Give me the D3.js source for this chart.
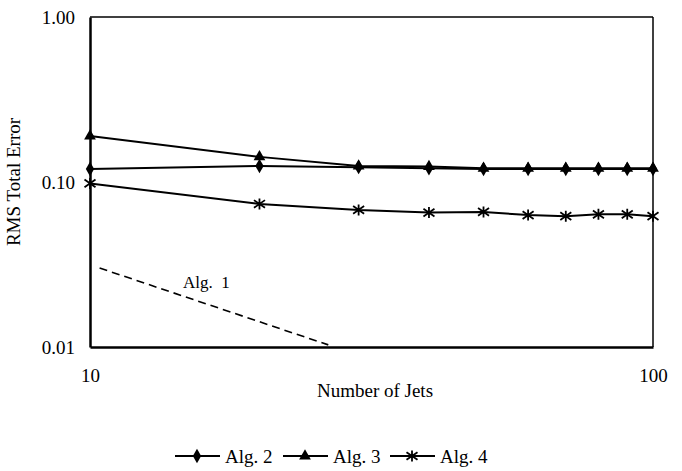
<!DOCTYPE html>
<html>
<head>
<meta charset="utf-8">
<script src="https://cdn.jsdelivr.net/npm/d3@7"></script>
<style>
  body { margin: 0; background: #fff; }
  svg { display: block; font-family: "Liberation Serif", "Times New Roman", serif; }
  .line { fill: none; stroke: #000; stroke-width: 2px; }
  .dash { fill: none; stroke: #000; stroke-width: 1.6px; stroke-dasharray: 8,5; }
  .axis path { stroke: #000; }
  .axis text { font-size: 19px; fill: #000; }
</style>
</head>
<body>
<svg id="chart"></svg>
<script>
// x values (number of jets)
var jets = [10, 20, 30, 40, 50, 60, 70, 80, 90, 100]
var alg2 = [0.120, 0.125, 0.123, 0.121, 0.120, 0.120, 0.120, 0.120, 0.120, 0.120]
var alg3 = [0.190, 0.142, 0.125, 0.124, 0.121, 0.121, 0.121, 0.121, 0.121, 0.121]
var alg4 = [0.098, 0.0736, 0.0677, 0.0653, 0.0659, 0.0630, 0.0621, 0.0637, 0.0637, 0.0621]
// Alg. 1 reference line (two end points)
var alg1X = [10.4, 26.5]
var alg1Y = [0.0301, 0.0103]
var yTicks = [0.01, 0.1, 1]
var xTicks = [10, 100]

var width = 682, height = 471
var margin = {top: 17, right: 29, bottom: 124, left: 90}
var w = width - margin.left - margin.right,
    h = height - margin.top - margin.bottom

var svg = d3.select("#chart").attr("width", width).attr("height", height)
var g = svg.append("g").attr("transform", "translate(" + margin.left + "," + margin.top + ")")

var x = d3.scaleLog().domain([10, 100]).range([0, w])
var y = d3.scaleLog().domain([0.01, 1]).range([h, 0])

// frame: thin top/right, heavier left/bottom
g.append("line").attr("x1", 0).attr("x2", w).attr("y1", 0).attr("y2", 0)
  .attr("stroke", "#000").attr("stroke-width", 1.5)
g.append("line").attr("x1", w).attr("x2", w).attr("y1", 0).attr("y2", h)
  .attr("stroke", "#000").attr("stroke-width", 1.5)

// axes
g.append("g").attr("class", "axis")
  .call(d3.axisLeft(y).tickValues(yTicks).tickSize(0).tickPadding(15).tickFormat(d3.format(".2f")))
  .attr("font-family", null).attr("font-size", null)
  .call(a => a.select(".domain").attr("stroke-width", 2.5))

g.append("g").attr("class", "axis")
  .attr("transform", "translate(0," + h + ")")
  .call(d3.axisBottom(x).tickValues(xTicks).tickSize(0).tickPadding(22).tickFormat(d3.format("d")))
  .attr("font-family", null).attr("font-size", null)
  .call(a => a.select(".domain").attr("stroke-width", 2.5))

// axis titles
svg.append("text")
  .attr("x", 375).attr("y", 397)
  .attr("text-anchor", "middle").attr("font-size", 19).text("Number of Jets")
svg.append("text")
  .attr("transform", "translate(20," + (margin.top + h / 2) + ") rotate(-90)")
  .attr("text-anchor", "middle").attr("font-size", 19).text("RMS Total Error")

// marker symbols
var diamond = d3.symbol().type(d3.symbolDiamond).size(60)
var triangle = d3.symbol().type(d3.symbolTriangle).size(60)
var starPath = function(s) {
  return "M0," + (-s) + "V" + s +
    "M" + (-s) + "," + (-s * 0.7) + "L" + s + "," + (s * 0.7) +
    "M" + (-s) + "," + (s * 0.7) + "L" + s + "," + (-s * 0.7)
}

var series = [
  {name: "Alg. 2", values: alg2, marker: "diamond"},
  {name: "Alg. 3", values: alg3, marker: "triangle"},
  {name: "Alg. 4", values: alg4, marker: "star"}
]

function drawMarker(sel, m) {
  if (m === "diamond") sel.append("path").attr("d", diamond()).attr("fill", "#000")
  else if (m === "triangle") sel.append("path").attr("d", triangle()).attr("fill", "#000")
  else sel.append("path").attr("d", starPath(5.5)).attr("fill", "none").attr("stroke", "#000").attr("stroke-width", 1.8)
}

var line = d3.line().x(d => x(d[0])).y(d => y(d[1]))

series.forEach(function(s) {
  var pts = jets.map((j, i) => [j, s.values[i]])
  g.append("path").datum(pts).attr("class", "line").attr("d", line)
  pts.forEach(function(p) {
    var m = g.append("g").attr("transform", "translate(" + x(p[0]) + "," + y(p[1]) + ")")
    drawMarker(m, s.marker)
  })
})

// Alg. 1 dashed
g.append("path").datum(alg1X.map((v, i) => [v, alg1Y[i]]))
  .attr("class", "dash").attr("d", line)
g.append("text").attr("x", x(16.1)).attr("y", y(0.0228))
  .attr("text-anchor", "middle").attr("font-size", 17).text("Alg.  1")
  .style("white-space", "pre")

// legend
var legendX = [175, 283, 390]
var leg = svg.append("g")
series.forEach(function(s, i) {
  var lx = legendX[i], ly = 456
  leg.append("line").attr("x1", lx).attr("x2", lx + 45).attr("y1", ly).attr("y2", ly)
    .attr("stroke", "#000").attr("stroke-width", 2)
  drawMarker(leg.append("g").attr("transform", "translate(" + (lx + 22) + "," + ly + ")"), s.marker)
  leg.append("text").attr("x", lx + 50).attr("y", ly + 6.5).attr("font-size", 19).text(s.name)
})
</script>
</body>
</html>
